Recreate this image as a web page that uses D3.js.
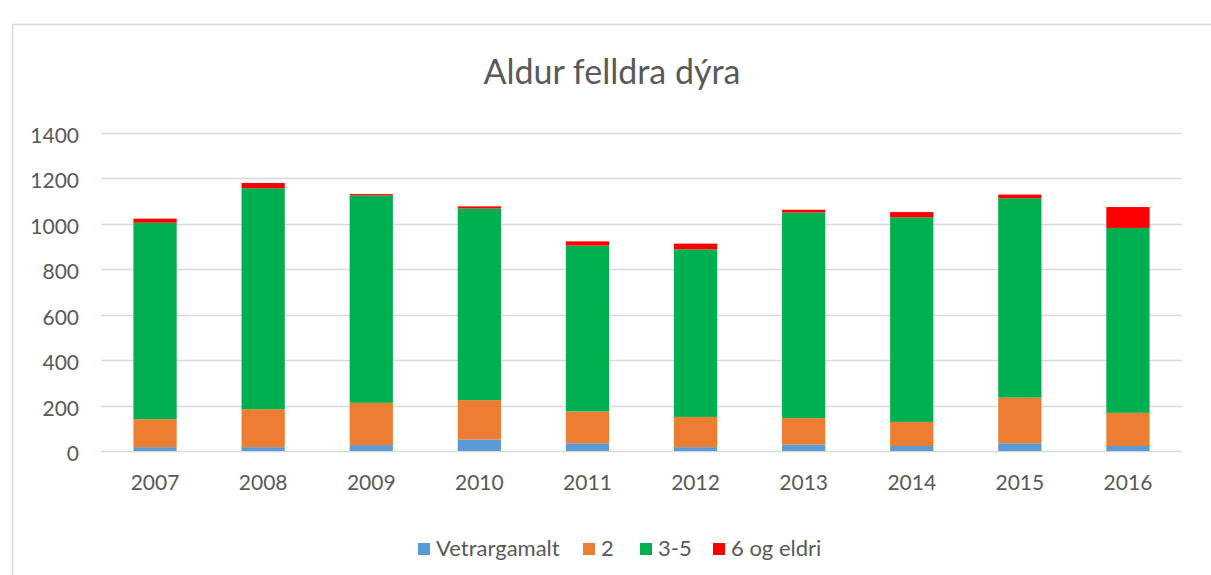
<!DOCTYPE html>
<html>
<head>
<meta charset="utf-8">
<script src="https://cdn.jsdelivr.net/npm/d3@7"></script>
<style>
  body { margin: 0; background: #fff; }
  svg { display: block; font-family: Lato, "Open Sans", sans-serif; }
</style>
</head>
<body>
<div id="chart"></div>
<script>
// Chart data
var years = ['2007', '2008', '2009', '2010', '2011', '2012', '2013', '2014', '2015', '2016'];
var seriesNames = ['Vetrargamalt', '2', '3-5', '6 og eldri'];
var seriesColors = ['#5B9BD5', '#ED7D31', '#00B050', '#FF0000'];
var vetrargamalt = [17, 17, 26, 51, 34, 17, 28, 22, 34, 22];
var tveggja = [123, 167, 186, 173, 140, 133, 117, 106, 201, 146];
var thriggjaTilFimm = [865, 973, 913, 844, 730, 738, 905, 901, 878, 814];
var sexOgEldri = [18, 23, 6, 9, 19, 25, 12, 23, 16, 92];
var yTicks = [0, 200, 400, 600, 800, 1000, 1200, 1400];

var width = 1211, height = 575;
var margin = { left: 101, right: 29, top: 133, bottom: 124 };

var svg = d3.select('#chart').append('svg')
  .attr('width', width)
  .attr('height', height);

// chart frame (only top and left edges show in the crop)
svg.append('path')
  .attr('d', 'M12.5,' + height + 'V24.5H' + width)
  .attr('fill', 'none')
  .attr('stroke', '#D9D9D9')
  .attr('stroke-width', 1.5);

// title
svg.append('text')
  .attr('x', 612)
  .attr('y', 84)
  .attr('text-anchor', 'middle')
  .attr('fill', '#595959')
  .style('font-size', '34px')
  .text('Aldur felldra dýra');

// build stacked rows
var table = years.map(function (y, i) {
  return {
    year: y,
    'Vetrargamalt': vetrargamalt[i],
    '2': tveggja[i],
    '3-5': thriggjaTilFimm[i],
    '6 og eldri': sexOgEldri[i]
  };
});
var stacked = d3.stack().keys(seriesNames)(table);

var xScale = d3.scaleBand()
  .domain(years)
  .range([margin.left, width - margin.right])
  .paddingInner(0.6)
  .paddingOuter(0.3);

var yScale = d3.scaleLinear()
  .domain([0, 1400])
  .range([height - margin.bottom, margin.top]);

// gridlines
svg.append('g')
  .selectAll('line')
  .data(yTicks)
  .enter()
  .append('line')
  .attr('x1', margin.left)
  .attr('x2', width - margin.right)
  .attr('y1', function (d) { return Math.round(yScale(d)) + 0.5; })
  .attr('y2', function (d) { return Math.round(yScale(d)) + 0.5; })
  .attr('stroke', '#D9D9D9')
  .attr('stroke-width', 1.5);

// y tick labels
var yAxis = d3.axisLeft(yScale).tickValues(yTicks).tickFormat(d3.format('d')).tickSize(0).tickPadding(22);
var yAxisGroup = svg.append('g')
  .attr('transform', 'translate(' + margin.left + ',0)')
  .call(yAxis);
yAxisGroup.select('.domain').remove();
yAxisGroup.selectAll('text')
  .attr('fill', '#595959')
  .attr('dy', '0.45em')
  .style('font-size', '21px')
  .style('font-family', 'Lato, sans-serif');

// bars
svg.append('g')
  .selectAll('g')
  .data(stacked)
  .enter()
  .append('g')
  .attr('fill', function (d, i) { return seriesColors[i]; })
  .selectAll('rect')
  .data(function (d) { return d; })
  .enter()
  .append('rect')
  .attr('x', function (d) { return xScale(d.data.year); })
  .attr('y', function (d) { return yScale(d[1]); })
  .attr('width', xScale.bandwidth())
  .attr('height', function (d) { return yScale(d[0]) - yScale(d[1]); });

// x axis labels
var xAxis = d3.axisBottom(xScale).tickSize(0).tickPadding(24);
var xAxisGroup = svg.append('g')
  .attr('transform', 'translate(0,' + (height - margin.bottom) + ')')
  .call(xAxis);
xAxisGroup.select('.domain').remove();
xAxisGroup.selectAll('text')
  .attr('fill', '#595959')
  .style('font-size', '21px')
  .style('font-family', 'Lato, sans-serif');

// legend
var legendX = [418, 583, 640, 713];
var legend = svg.append('g')
  .selectAll('g')
  .data(seriesNames)
  .enter()
  .append('g')
  .attr('transform', function (d, i) { return 'translate(' + legendX[i] + ',543)'; });
legend.append('rect')
  .attr('width', 12)
  .attr('height', 12)
  .attr('fill', function (d, i) { return seriesColors[i]; });
legend.append('text')
  .attr('x', 18)
  .attr('y', 13)
  .attr('fill', '#595959')
  .style('font-size', '22px')
  .text(function (d) { return d; });
</script>
</body>
</html>
